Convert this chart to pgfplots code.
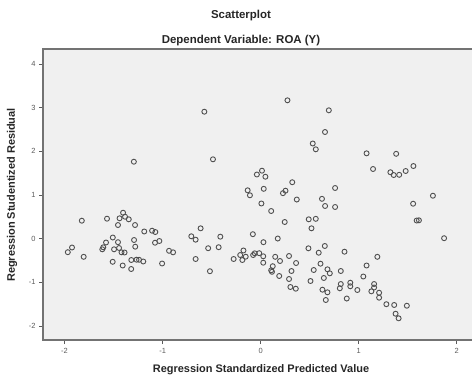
\documentclass[border=0pt]{standalone}
\usepackage{fontspec}
\setmainfont{Liberation Sans}
\usepackage{pgfplots}
\pgfplotsset{compat=1.18}
\definecolor{plotbg}{RGB}{240,240,240}
\definecolor{markc}{RGB}{80,80,80}
\definecolor{framec}{RGB}{115,115,115}
\definecolor{tickc}{RGB}{90,90,90}
\pgfplotstableread{
x y
-1.967 -0.311
-1.924 -0.204
-1.824 0.410
-1.805 -0.417
-1.615 -0.245
-1.605 -0.199
-1.577 -0.089
-1.567 0.456
-1.508 0.025
-1.509 -0.531
-1.495 -0.245
-1.455 -0.082
-1.455 0.311
-1.439 0.465
-1.403 0.593
-1.383 0.501
-1.345 0.442
-1.444 -0.215
-1.419 -0.314
-1.388 -0.318
-1.407 -0.616
-1.320 -0.696
-1.319 -0.490
-1.291 -0.032
-1.279 -0.185
-1.281 0.311
-1.266 -0.483
-1.240 -0.485
-1.197 -0.524
-1.187 0.163
-1.107 0.181
-1.074 0.151
-1.077 -0.094
-1.033 -0.055
-1.005 -0.570
-0.934 -0.279
-0.893 -0.314
-1.293 1.761
-0.707 0.053
-0.663 -0.025
-0.663 -0.467
-0.612 0.236
-0.535 -0.220
-0.517 -0.747
-0.428 -0.197
-0.411 0.044
-0.275 -0.467
-0.208 -0.376
-0.574 2.906
-0.486 1.816
-0.175 -0.272
-0.186 -0.490
-0.152 -0.414
-0.076 -0.376
-0.060 -0.337
-0.014 -0.334
0.027 -0.405
0.027 -0.552
-0.079 0.101
0.029 -0.082
0.008 0.804
0.108 0.632
0.246 0.380
0.175 0.002
0.149 -0.417
0.198 -0.513
0.290 -0.398
0.362 -0.559
0.124 -0.632
0.116 -0.760
0.108 -0.726
0.190 -0.856
0.315 -0.742
0.290 -0.925
0.304 -1.108
0.359 -1.147
0.274 3.167
0.696 2.938
0.657 2.441
0.532 2.178
0.563 2.045
0.014 1.555
-0.038 1.468
0.049 1.417
0.323 1.291
0.032 1.140
-0.132 1.106
-0.109 0.992
0.254 1.097
0.228 1.040
0.760 1.159
0.369 0.895
0.626 0.911
0.658 0.747
0.760 0.724
0.491 0.442
0.563 0.453
0.519 0.236
0.488 -0.222
0.593 -0.323
0.655 -0.169
0.611 -0.575
0.542 -0.719
0.682 -0.703
0.706 -0.795
0.645 -0.902
0.509 -0.971
0.856 -0.300
0.818 -0.742
0.631 -1.170
0.682 -1.230
0.665 -1.406
0.818 -1.040
0.808 -1.138
0.915 -1.010
0.915 -1.092
0.987 -1.177
0.879 -1.372
1.081 -0.616
1.048 -0.868
1.191 -0.417
1.158 -1.040
1.158 -1.120
1.130 -1.207
1.209 -1.239
1.209 -1.353
1.283 -1.502
1.363 -1.520
1.492 -1.537
1.377 -1.720
1.408 -1.825
1.081 1.953
1.383 1.942
1.147 1.594
1.324 1.520
1.358 1.456
1.414 1.461
1.480 1.548
1.559 1.662
1.758 0.982
1.556 0.799
1.592 0.414
1.615 0.419
1.872 0.009
}\residuals
\begin{document}
\begin{tikzpicture}[x=1bp,y=1bp]
\path[use as bounding box] (0,0) rectangle (472,379);
\begin{axis}[
  at={(43bp,39bp)}, anchor=south west,
  scale only axis, width=435bp, height=291bp,
  xmin=-2.22, xmax=2.218, ymin=-2.322, ymax=4.342,
  xtick={-2,-1,0,1,2}, ytick={-2,-1,0,1,2,3,4},
  xtick pos=left, ytick pos=left,
  tick align=outside, major tick length=4bp,
  tick style={tickc, line width=0.8bp},
  tick label style={font=\fontsize{7.5}{8}\selectfont, text=tickc},
  xticklabel style={yshift=-1bp},
  /pgf/number format/assume math mode=true,
  axis background/.style={fill=plotbg},
  axis line style={framec, line width=1.2bp},
]
\addplot[only marks, mark=o, mark size=2.5bp, mark options={markc, line width=0.9bp}] table[x=x,y=y] {\residuals};
\end{axis}
\node[font=\bfseries\fontsize{11.5}{13}\selectfont, text=black!85] at (241,363) {Scatterplot};
\node[font=\bfseries\fontsize{11.5}{13}\selectfont, text=black!85] at (241,338) {Dependent Variable: ROA (Y)};
\node[font=\bfseries\fontsize{11}{13}\selectfont, text=black!85] at (261,9) {Regression Standardized Predicted Value};
\node[font=\bfseries\fontsize{11}{13}\selectfont, text=black!85, rotate=90] at (12,184) {Regression Studentized Residual};
\end{tikzpicture}
\end{document}
